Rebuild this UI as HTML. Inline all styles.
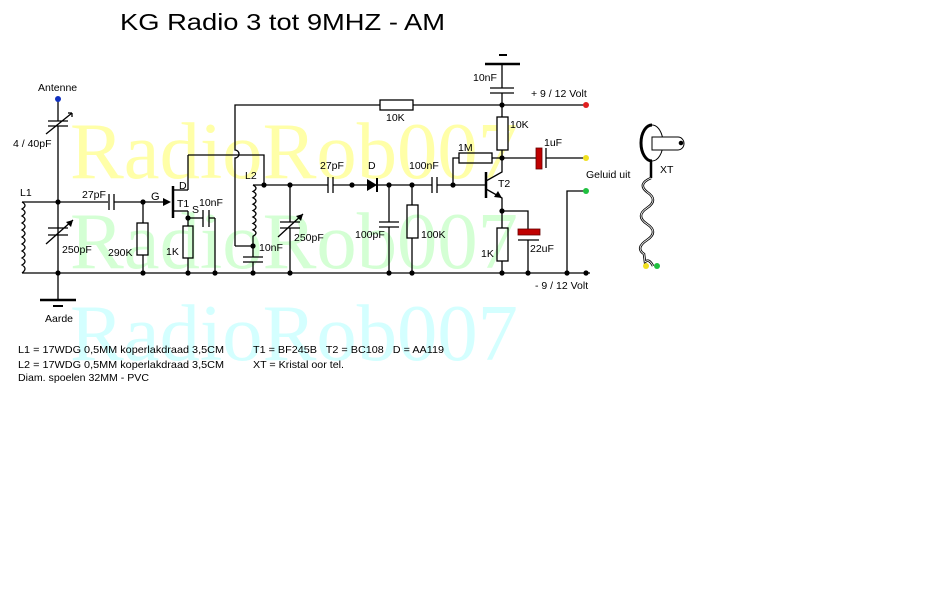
<!DOCTYPE html>
<html><head><style>
html,body{margin:0;padding:0;background:#fff;}
svg{display:block;}
text{font-family:"Liberation Sans",sans-serif;font-size:10.5px;fill:#000;}
.wm{font-family:"Liberation Serif",serif;font-size:80px;}
</style></head><body>
<svg width="942" height="602" viewBox="0 0 942 602" xmlns="http://www.w3.org/2000/svg">
<rect width="942" height="602" fill="#fff"/>
<!-- watermarks -->
<text class="wm" x="70" y="178" style="fill:#ffffa8" textLength="448" lengthAdjust="spacingAndGlyphs">RadioRob007</text>
<text class="wm" x="70" y="268" style="fill:#d4ffd4" textLength="448" lengthAdjust="spacingAndGlyphs">RadioRob007</text>
<text class="wm" x="70" y="360" style="fill:#d4ffff" textLength="448" lengthAdjust="spacingAndGlyphs">RadioRob007</text>

<text x="120" y="30" style="font-size:23px" textLength="325" lengthAdjust="spacingAndGlyphs">KG Radio 3 tot 9MHZ - AM</text>

<g stroke="#000" stroke-width="1.3" fill="none">
<line x1="58" y1="99" x2="58" y2="121"/>
<line x1="58" y1="126" x2="58" y2="300"/>
<line x1="48" y1="121" x2="68" y2="121"/><line x1="48" y1="126" x2="68" y2="126"/>
<line x1="46" y1="134" x2="72" y2="113"/>
<line x1="72" y1="113" x2="68" y2="113"/><line x1="72" y1="113" x2="72" y2="117"/>
<line x1="48" y1="228" x2="68" y2="228"/><line x1="48" y1="235" x2="68" y2="235"/>
<line x1="46" y1="244" x2="73" y2="220"/>
<line x1="40" y1="300" x2="76" y2="300" stroke-width="2.5"/>
<line x1="53" y1="306" x2="63" y2="306" stroke-width="2"/>
<line x1="22" y1="202" x2="108" y2="202"/>
<line x1="22" y1="273" x2="590" y2="273"/>
<path d="M22 202 q6 3.5 0 7 q6 3.5 0 7 q6 3.5 0 7 q6 3.5 0 7 q6 3.5 0 7 q6 3.5 0 7 q6 3.5 0 7 q6 3.5 0 7 q6 3.5 0 7 q6 3.5 0 8"/>
<line x1="109" y1="194" x2="109" y2="210"/><line x1="114" y1="194" x2="114" y2="210"/>
<line x1="114" y1="202" x2="166" y2="202"/>
<line x1="143" y1="202" x2="143" y2="223"/><rect x="137" y="223" width="11" height="32"/><line x1="143" y1="255" x2="143" y2="273"/>
<line x1="173" y1="186" x2="173" y2="218" stroke-width="2.5"/>
<line x1="173" y1="190" x2="188" y2="190"/><line x1="188" y1="190" x2="188" y2="155"/>
<line x1="188" y1="155" x2="231" y2="155"/>
<line x1="173" y1="211" x2="188" y2="211"/><line x1="188" y1="211" x2="188" y2="226"/>
<rect x="183" y="226" width="10" height="32"/><line x1="188" y1="258" x2="188" y2="273"/>
<line x1="188" y1="218" x2="203" y2="218"/>
<line x1="203" y1="210" x2="203" y2="227"/><line x1="209" y1="210" x2="209" y2="227"/>
<line x1="209" y1="218" x2="215" y2="218"/><line x1="215" y1="218" x2="215" y2="273"/>
<path d="M235 246 L235 158 A4 4 0 0 0 235 150 L235 105 L380 105"/>
<path d="M231 155 L239 155 L264 155 L264 185"/>
<line x1="235" y1="246" x2="253" y2="246"/>
<rect x="380" y="100" width="33" height="10"/>
<line x1="413" y1="105" x2="586" y2="105"/>
<path d="M253 185 q6 3.2 0 6.4 q6 3.2 0 6.4 q6 3.2 0 6.4 q6 3.2 0 6.4 q6 3.2 0 6.4 q6 3.2 0 6.4 q6 3.2 0 6.4 q6 3.2 0 6.4 L253 246"/>
<line x1="253" y1="246" x2="253" y2="257"/>
<line x1="243" y1="257" x2="263" y2="257"/><line x1="243" y1="262" x2="263" y2="262"/>
<line x1="253" y1="262" x2="253" y2="273"/>
<line x1="253" y1="185" x2="328" y2="185"/>
<line x1="290" y1="185" x2="290" y2="222"/><line x1="290" y1="228" x2="290" y2="273"/>
<line x1="280" y1="222" x2="300" y2="222"/><line x1="280" y1="228" x2="300" y2="228"/>
<line x1="278" y1="237" x2="303" y2="214"/>
<line x1="328" y1="177" x2="328" y2="193"/><line x1="333" y1="177" x2="333" y2="193"/>
<line x1="333" y1="185" x2="432" y2="185"/>
<line x1="389" y1="185" x2="389" y2="222"/><line x1="389" y1="227" x2="389" y2="273"/>
<line x1="379" y1="222" x2="399" y2="222"/><line x1="379" y1="227" x2="399" y2="227"/>
<line x1="412" y1="185" x2="412" y2="205"/><rect x="407" y="205" width="11" height="33"/><line x1="412" y1="238" x2="412" y2="273"/>
<line x1="432" y1="177" x2="432" y2="193"/><line x1="437" y1="177" x2="437" y2="193"/>
<line x1="437" y1="185" x2="486" y2="185"/>
<path d="M453 185 L453 158 L459 158"/>
<rect x="459" y="153" width="33" height="10"/>
<line x1="492" y1="158" x2="537" y2="158"/>
<line x1="546" y1="148" x2="546" y2="168"/><line x1="546" y1="158" x2="586" y2="158"/>
<line x1="486" y1="172" x2="486" y2="198" stroke-width="2.5"/>
<path d="M486 181 L502 172 L502 105"/>
<path d="M486 189 L502 198 L502 228"/>
<rect x="497" y="228" width="11" height="33"/><line x1="502" y1="261" x2="502" y2="273"/>
<rect x="497" y="117" width="11" height="33" fill="#fff"/>
<path d="M502 211 L528 211 L528 230"/>
<line x1="518" y1="240" x2="539" y2="240"/><line x1="528" y1="240" x2="528" y2="273"/>
<path d="M567 273 L567 191 L586 191"/>
<line x1="502" y1="64" x2="502" y2="88"/><line x1="502" y1="93" x2="502" y2="105"/>
<line x1="490" y1="88" x2="514" y2="88"/><line x1="490" y1="93" x2="514" y2="93"/>
<line x1="485" y1="64" x2="520" y2="64" stroke-width="2.5"/>
<line x1="499" y1="55" x2="507" y2="55" stroke-width="2"/>
</g>
<rect x="536" y="148" width="6" height="21" fill="#c00000" stroke="#600" stroke-width="0.8"/>
<rect x="518" y="229" width="22" height="6" fill="#c00000" stroke="#600" stroke-width="0.8"/>
<polygon points="171,202 163,198 163,206" fill="#000"/>
<polygon points="502,198 494,197 498,191" fill="#000"/>
<polygon points="367,179 367,191 377,185" fill="#000"/>
<line x1="377" y1="178" x2="377" y2="192" stroke="#000" stroke-width="2"/>
<polygon points="73,220 66,222 71,227" fill="#000"/>
<polygon points="303,214 296,216 301,221" fill="#000"/>
<g fill="#000">
<circle cx="58" cy="202" r="2.6"/><circle cx="58" cy="273" r="2.6"/><circle cx="143" cy="202" r="2.6"/><circle cx="143" cy="273" r="2.6"/>
<circle cx="188" cy="218" r="2.6"/><circle cx="188" cy="273" r="2.6"/><circle cx="215" cy="273" r="2.6"/>
<circle cx="264" cy="185" r="2.6"/><circle cx="253" cy="246" r="2.6"/><circle cx="253" cy="273" r="2.6"/>
<circle cx="290" cy="185" r="2.6"/><circle cx="290" cy="273" r="2.6"/><circle cx="352" cy="185" r="2.6"/>
<circle cx="389" cy="185" r="2.6"/><circle cx="389" cy="273" r="2.6"/><circle cx="412" cy="185" r="2.6"/><circle cx="412" cy="273" r="2.6"/>
<circle cx="453" cy="185" r="2.6"/><circle cx="502" cy="105" r="2.6"/><circle cx="502" cy="158" r="2.6"/><circle cx="502" cy="211" r="2.6"/>
<circle cx="502" cy="273" r="2.6"/><circle cx="528" cy="273" r="2.6"/><circle cx="567" cy="273" r="2.6"/><circle cx="586" cy="273" r="2.6"/>
</g>
<circle cx="58" cy="99" r="3" fill="#1030c0"/>
<circle cx="586" cy="105" r="3" fill="#e02020"/>
<circle cx="586" cy="158" r="3" fill="#f0e020"/>
<circle cx="586" cy="191" r="3" fill="#20c040"/>
<g stroke="#000" fill="#fff" stroke-width="1">
<ellipse cx="652" cy="143" rx="11" ry="18"/>
<path d="M652 125 A11 18 0 0 0 652 161" fill="none" stroke-width="3"/>
<path d="M652 137 L678 137 A6 6.5 0 0 1 678 150 L652 150 Z"/>
<circle cx="681" cy="143" r="1.8" fill="#000"/>
<line x1="651" y1="161" x2="651" y2="178" stroke-width="2.5"/>
<path d="M651 178 q-14 6 -4 14 q12 8 0 16 q-12 8 0 16 q12 8 0 16 q-12 8 -3 14 l1 8 q4 -4 8 4" fill="none" stroke-width="2.5"/>
<path d="M651 178 q-14 6 -4 14 q12 8 0 16 q-12 8 0 16 q12 8 0 16 q-12 8 -3 14 l1 8 q4 -4 8 4" fill="none" stroke="#fff" stroke-width="0.8"/>
</g>
<circle cx="646" cy="266" r="3" fill="#f0e020"/>
<circle cx="657" cy="266" r="3" fill="#20c040"/>
<text x="38" y="91">Antenne</text>
<text x="13" y="147">4 / 40pF</text>
<text x="20" y="196">L1</text>
<text x="82" y="198">27pF</text>
<text x="62" y="253">250pF</text>
<text x="108" y="256">290K</text>
<text x="45" y="322">Aarde</text>
<text x="151" y="200" style="font-size:11px">G</text>
<text x="179" y="189">D</text>
<text x="177" y="207">T1</text>
<text x="192" y="213">S</text>
<text x="199" y="206">10nF</text>
<text x="166" y="255">1K</text>
<text x="245" y="179">L2</text>
<text x="259" y="251">10nF</text>
<text x="320" y="169">27pF</text>
<text x="294" y="241">250pF</text>
<text x="368" y="169">D</text>
<text x="386" y="121">10K</text>
<text x="409" y="169">100nF</text>
<text x="355" y="238">100pF</text>
<text x="421" y="238">100K</text>
<text x="458" y="151">1M</text>
<text x="473" y="81">10nF</text>
<text x="531" y="97">+ 9 / 12 Volt</text>
<text x="510" y="128">10K</text>
<text x="544" y="146">1uF</text>
<text x="498" y="187">T2</text>
<text x="586" y="178">Geluid uit</text>
<text x="481" y="257">1K</text>
<text x="530" y="252">22uF</text>
<text x="535" y="289">- 9 / 12 Volt</text>
<text x="660" y="173">XT</text>
<text x="18" y="353" textLength="206" lengthAdjust="spacingAndGlyphs">L1 = 17WDG 0,5MM koperlakdraad 3,5CM</text>
<text x="18" y="368" textLength="206" lengthAdjust="spacingAndGlyphs">L2 = 17WDG 0,5MM koperlakdraad 3,5CM</text>
<text x="18" y="381" textLength="131" lengthAdjust="spacingAndGlyphs">Diam. spoelen 32MM - PVC</text>
<text x="253" y="353" xml:space="preserve" textLength="191" lengthAdjust="spacingAndGlyphs">T1 = BF245B   T2 = BC108   D = AA119</text>
<text x="253" y="368" textLength="91" lengthAdjust="spacingAndGlyphs">XT = Kristal oor tel.</text>
</svg>
</body></html>
